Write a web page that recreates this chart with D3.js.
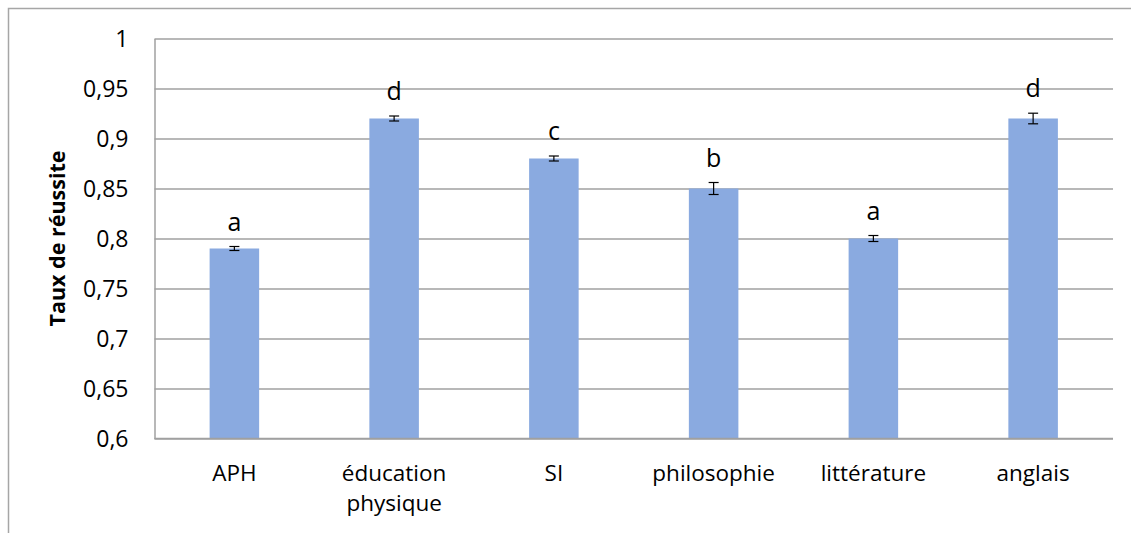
<!DOCTYPE html>
<html lang="fr">
<head>
<meta charset="UTF-8">
<title>Taux de réussite</title>
<script src="https://d3js.org/d3.v7.min.js"></script>
<style>
  body { margin: 0; background: #fff; }
  svg text { font-family: "Open Sans", "Noto Sans", sans-serif; fill: #000; }
</style>
</head>
<body>
<div id="chart"></div>
<script>
// data
const subjects = ["APH", "éducation physique", "SI", "philosophie", "littérature", "anglais"];
const rates = [0.79, 0.92, 0.88, 0.85, 0.80, 0.92];
const errors = [0.002, 0.0025, 0.0025, 0.006, 0.003, 0.0053];
const groups = ["a", "d", "c", "b", "a", "d"];
const yTicks = [0.6, 0.65, 0.7, 0.75, 0.8, 0.85, 0.9, 0.95, 1];

const width = 1131, height = 533;
const margin = { top: 38.5, right: 18, bottom: 94.5, left: 154.5 };

const svg = d3.select("#chart").append("svg")
  .attr("width", width)
  .attr("height", height);

// outer frame (only top and left visible)
svg.append("path")
  .attr("d", `M8.5,${height} V8.5 H${width}`)
  .attr("fill", "none")
  .attr("stroke", "#a6a6a6")
  .attr("stroke-width", 1.5);

const x = d3.scaleBand()
  .domain(subjects)
  .range([margin.left, width - margin.right]);

const y = d3.scaleLinear()
  .domain([0.6, 1])
  .range([height - margin.bottom, margin.top]);

// horizontal gridlines
svg.append("g")
  .attr("transform", `translate(${margin.left},0)`)
  .call(d3.axisLeft(y).tickValues(yTicks)
    .tickSize(-(width - margin.right - margin.left))
    .tickFormat(""))
  .call(g => g.select(".domain").remove())
  .selectAll("line")
  .attr("stroke", "#a0a0a0")
  .attr("stroke-width", 1.5);

// y axis line + labels
const yAxis = svg.append("g")
  .attr("transform", `translate(${margin.left},0)`)
  .call(d3.axisLeft(y).tickValues(yTicks).tickSize(0).tickPadding(26)
    .tickFormat(d => String(d).replace(".", ",")));
yAxis.select(".domain").attr("stroke", "#a0a0a0").attr("stroke-width", 1.5);
yAxis.selectAll("text")
  .attr("font-size", 23)
  .attr("dy", "0.35em");

svg.append("text")
  .attr("transform", `translate(65,${(margin.top + height - margin.bottom) / 2}) rotate(-90)`)
  .attr("text-anchor", "middle")
  .attr("font-size", 21.5)
  .attr("font-weight", "bold")
  .text("Taux de réussite");

const barW = x.bandwidth() * 0.31;
const data = subjects.map((s, i) => ({ s, v: rates[i], e: errors[i], g: groups[i] }));

svg.append("g").selectAll("rect")
  .data(data)
  .join("rect")
  .attr("x", d => x(d.s) + x.bandwidth() / 2 - barW / 2)
  .attr("width", barW)
  .attr("y", d => y(d.v))
  .attr("height", d => y(0.6) - y(d.v))
  .attr("fill", "#8aaae0");

// bottom axis line
svg.append("line")
  .attr("x1", margin.left).attr("x2", width - margin.right)
  .attr("y1", y(0.6)).attr("y2", y(0.6))
  .attr("stroke", "#a0a0a0")
  .attr("stroke-width", 1.5);

// error bars
const eb = svg.append("g").selectAll("g")
  .data(data)
  .join("g")
  .attr("transform", d => `translate(${x(d.s) + x.bandwidth() / 2},0)`)
  .attr("stroke", "#000")
  .attr("stroke-width", 1.2);
eb.append("line").attr("y1", d => y(d.v + d.e)).attr("y2", d => y(d.v - d.e));
eb.append("line").attr("x1", -5).attr("x2", 5)
  .attr("y1", d => y(d.v + d.e)).attr("y2", d => y(d.v + d.e));
eb.append("line").attr("x1", -5).attr("x2", 5)
  .attr("y1", d => y(d.v - d.e)).attr("y2", d => y(d.v - d.e));

// group letters
svg.append("g").selectAll("text")
  .data(data)
  .join("text")
  .attr("x", d => x(d.s) + x.bandwidth() / 2)
  .attr("y", d => y(d.v + d.e) - 16)
  .attr("text-anchor", "middle")
  .attr("font-size", 25)
  .text(d => d.g);

// category labels
const cat = svg.append("g").selectAll("text")
  .data(subjects)
  .join("text")
  .attr("x", d => x(d) + x.bandwidth() / 2)
  .attr("y", y(0.6) + 42)
  .attr("text-anchor", "middle")
  .attr("font-size", 22.5);
cat.selectAll("tspan")
  .data(d => d.split(" ").map(w => ({ w, x: x(d) + x.bandwidth() / 2 })))
  .join("tspan")
  .attr("x", t => t.x)
  .attr("dy", (t, i) => i ? 30 : 0)
  .text(t => t.w);
</script>
</body>
</html>
